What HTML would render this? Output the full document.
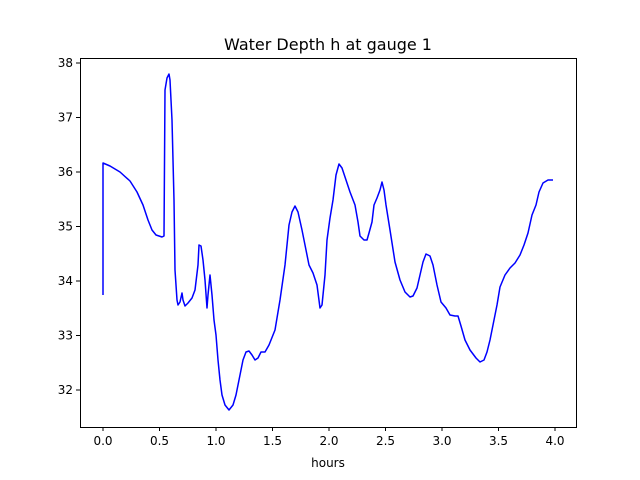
<!DOCTYPE html>
<html><head><meta charset="utf-8"><style>body{margin:0;background:#fff}svg{display:block;font-family:"DejaVu Sans","Liberation Sans",sans-serif}</style></head><body>
<svg width="640" height="480" viewBox="0 0 640 480">
<rect width="640" height="480" fill="#fff"/>
<text x="328" y="50" font-size="16" text-anchor="middle">Water Depth h at gauge 1</text>
<polyline fill="none" stroke="#0000ff" stroke-width="1.5" stroke-linejoin="round" points="103,295 103,163 110,166 120,172 130,181 137,192 143,205 148,220 152,230 156,235 162,237 164,236 165,90 167,78 169,74 170,80 172,120 174,200 175,270 177,300 178,305 180,302 182,293 183,300 185,306 188,303 192,298 195,290 198,265 199,245 201,246 203,260 205,280 207,308 208,295 210,275 212,295 214,320 216,335 218,360 220,380 222,395 225,405 229,410 233,405 236,395 240,375 243,360 246,352 249,351 252,355 255,360 258,358 261,352 265,352 269,345 275,330 280,300 285,265 289,225 292,212 295,206 298,212 302,230 306,250 309,265 313,273 317,285 320,308 322,305 325,275 327,240 330,218 333,200 336,175 339,164 342,168 346,180 350,192 355,205 358,222 360,236 364,240 367,240 369,233 372,222 374,205 377,198 380,190 382,182 384,190 386,205 390,230 395,262 400,280 405,292 410,297 413,296 417,288 420,275 423,262 426,254 430,256 433,265 437,285 441,302 446,308 450,315 455,316 458,316 461,326 465,340 470,350 476,358 480,362 484,360 487,352 490,340 493,325 497,305 500,287 505,275 510,268 515,263 520,255 524,245 528,233 532,215 536,205 539,192 543,183 548,180 553,180"/>
<rect x="80.5" y="58.5" width="496" height="369" fill="none" stroke="#000" stroke-width="1"/>
<g stroke="#000" stroke-width="1">
<line x1="103" y1="427" x2="103" y2="431"/><line x1="159.5" y1="427" x2="159.5" y2="431"/><line x1="216" y1="427" x2="216" y2="431"/><line x1="272.5" y1="427" x2="272.5" y2="431"/><line x1="329" y1="427" x2="329" y2="431"/><line x1="385.5" y1="427" x2="385.5" y2="431"/><line x1="442" y1="427" x2="442" y2="431"/><line x1="498.5" y1="427" x2="498.5" y2="431"/><line x1="555" y1="427" x2="555" y2="431"/>
<line x1="76" y1="390" x2="80" y2="390"/><line x1="76" y1="335.5" x2="80" y2="335.5"/><line x1="76" y1="281" x2="80" y2="281"/><line x1="76" y1="226.5" x2="80" y2="226.5"/><line x1="76" y1="172" x2="80" y2="172"/><line x1="76" y1="117.5" x2="80" y2="117.5"/><line x1="76" y1="63" x2="80" y2="63"/>
</g>
<g font-size="12" text-anchor="middle">
<text x="103" y="445">0.0</text><text x="159.5" y="445">0.5</text><text x="216" y="445">1.0</text><text x="272.5" y="445">1.5</text><text x="329" y="445">2.0</text><text x="385.5" y="445">2.5</text><text x="442" y="445">3.0</text><text x="498.5" y="445">3.5</text><text x="555" y="445">4.0</text>
<text x="328" y="467">hours</text>
</g>
<g font-size="12" text-anchor="end">
<text x="73" y="394">32</text><text x="73" y="339.5">33</text><text x="73" y="285">34</text><text x="73" y="230.5">35</text><text x="73" y="176">36</text><text x="73" y="121.5">37</text><text x="73" y="67">38</text>
</g>
</svg>
</body></html>
